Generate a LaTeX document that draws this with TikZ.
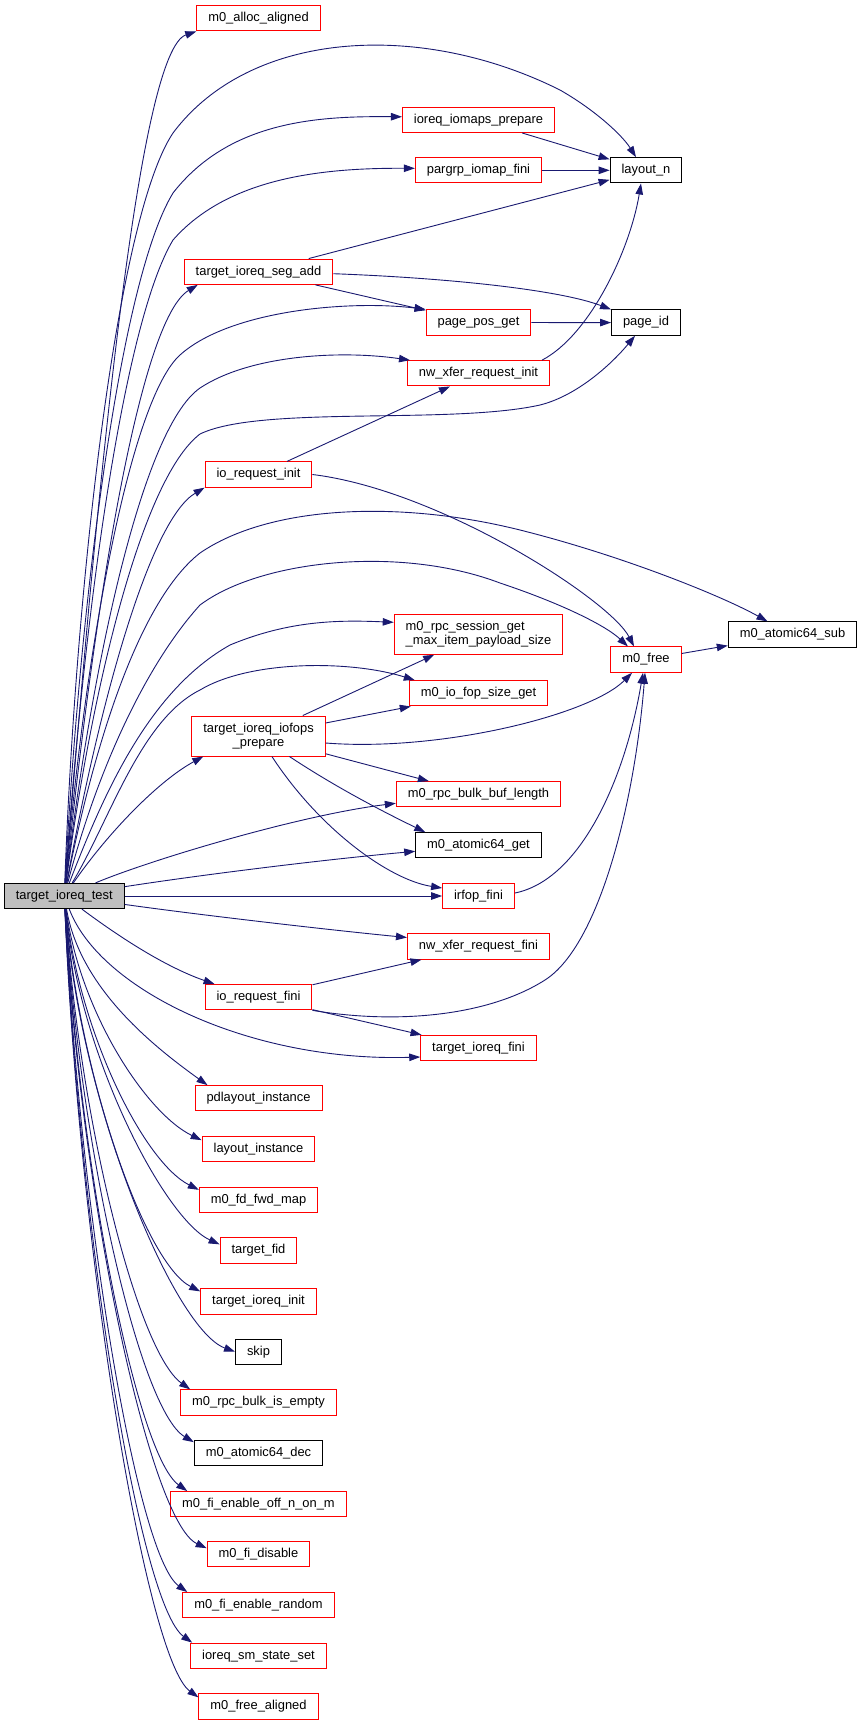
\documentclass[tikz,border=0pt]{standalone}
\usepackage{fontspec}
\setmainfont{Liberation Sans}
\usetikzlibrary{arrows.meta}
\definecolor{edgeblue}{HTML}{191970}
\definecolor{rootgrey}{HTML}{BFBFBF}
\tikzset{
	fnbox/.style={draw=red, line width=1pt, rectangle, inner xsep=11.5pt, minimum height=25.3pt, font=\fontsize{12.9}{14}\selectfont},
	fnboxblack/.style={fnbox, draw=black},
	rootbox/.style={fnbox, draw=black, fill=rootgrey},
	callarrow/.style={draw=edgeblue, line width=0.9pt, -{Triangle[length=11pt,width=7.5pt]}},
}

\begin{document}
\begin{tikzpicture}[x=1pt, y=-1pt]
		%%%%% START %%%%%
		\useasboundingbox (0, 0) rectangle (863, 1725);
		
		% caller
		\node[rootbox] (root) at (64.3, 896) {target\_ioreq\_test};
		
		% first column of callees
		\node[fnbox] (alloc) at (258.5, 18.3) {m0\_alloc\_aligned};
		\node[fnbox] (segadd) at (258.5, 271.7) {target\_ioreq\_seg\_add};
		\node[fnbox] (ioinit) at (258.5, 474.5) {io\_request\_init};
		\node[fnbox, minimum height=40pt, align=center] (iofops) at (258.5, 736) {target\_ioreq\_iofops\\\_prepare};
		\node[fnbox] (iofini) at (258.5, 997.2) {io\_request\_fini};
		\node[fnbox] (pdl) at (258.5, 1098.3) {pdlayout\_instance};
		\node[fnbox] (layinst) at (258.5, 1149.3) {layout\_instance};
		\node[fnbox] (fdfwd) at (258.5, 1200) {m0\_fd\_fwd\_map};
		\node[fnbox] (tgtfid) at (258.5, 1250.5) {target\_fid};
		\node[fnbox] (tgtinit) at (258.5, 1301.5) {target\_ioreq\_init};
		\node[fnboxblack] (skip) at (258.5, 1351.7) {skip};
		\node[fnbox] (bulkempty) at (258.5, 1402.5) {m0\_rpc\_bulk\_is\_empty};
		\node[fnboxblack] (atomdec) at (258.5, 1453.3) {m0\_atomic64\_dec};
		\node[fnbox] (fioff) at (258.5, 1504.2) {m0\_fi\_enable\_off\_n\_on\_m};
		\node[fnbox] (fidis) at (258.5, 1554.3) {m0\_fi\_disable};
		\node[fnbox] (firand) at (258.5, 1605.2) {m0\_fi\_enable\_random};
		\node[fnbox] (smstate) at (258.5, 1655.8) {ioreq\_sm\_state\_set};
		\node[fnbox] (freealig) at (258.5, 1706.5) {m0\_free\_aligned};
		
		% second column
		\node[fnbox] (iomaps) at (478.5, 119.8) {ioreq\_iomaps\_prepare};
		\node[fnbox] (pargrp) at (478.5, 170.3) {pargrp\_iomap\_fini};
		\node[fnbox] (pagepos) at (478.5, 322.5) {page\_pos\_get};
		\node[fnbox] (nwinit) at (478.5, 373.3) {nw\_xfer\_request\_init};
		\node[fnbox, minimum height=40pt, align=left] (rpcsess) at (478.5, 634.3) {m0\_rpc\_session\_get\\\_max\_item\_payload\_size};
		\node[fnbox] (iofop) at (478.5, 693.3) {m0\_io\_fop\_size\_get};
		\node[fnbox] (bulklen) at (478.5, 794.3) {m0\_rpc\_bulk\_buf\_length};
		\node[fnboxblack] (atomget) at (478.5, 845.3) {m0\_atomic64\_get};
		\node[fnbox] (irfop) at (478.5, 896) {irfop\_fini};
		\node[fnbox] (nwfini) at (478.5, 946.5) {nw\_xfer\_request\_fini};
		\node[fnbox] (tgtfini) at (478.5, 1048) {target\_ioreq\_fini};
		
		% third and fourth column
		\node[fnboxblack] (layoutn) at (646, 170.3) {layout\_n};
		\node[fnboxblack] (pageid) at (646, 322.6) {page\_id};
		\node[fnbox] (mfree) at (646, 659.6) {m0\_free};
		\node[fnboxblack] (atomsub) at (792.5, 634.5) {m0\_atomic64\_sub};
		
		% calls going up
		\draw[callarrow] (root) .. controls (100, 450) and (140, 50) .. (alloc.south west);
		\draw[callarrow] (root) .. controls (75, 600) and (115, 220) .. (173, 133) .. controls (250, 30) and (420, 20) .. (560, 90) .. controls (595, 110) and (622, 135) .. ([xshift=-10pt]layoutn.north);
		\draw[callarrow] (root) .. controls (80, 600) and (120, 280) .. (173, 193) .. controls (230, 120) and (320, 116) .. ([yshift=3pt]iomaps.west);
		\draw[callarrow] (root) .. controls (85, 600) and (125, 320) .. (173, 240) .. controls (230, 175) and (330, 168) .. ([yshift=2pt]pargrp.west);
		\draw[callarrow] (root) .. controls (95, 600) and (140, 320) .. ([xshift=14pt]segadd.south west);
		\draw[callarrow] (root) .. controls (85, 650) and (130, 400) .. (180, 355) .. controls (230, 310) and (350, 300) .. (pagepos.north west);
		\draw[callarrow] (root) .. controls (90, 680) and (140, 430) .. (200, 388) .. controls (250, 355) and (340, 350) .. ([xshift=3pt]nwinit.north west);
		\draw[callarrow] (root) .. controls (90, 700) and (140, 480) .. (200, 434) .. controls (260, 405) and (450, 425) .. (540, 405) .. controls (580, 395) and (615, 360) .. ([xshift=-11pt]pageid.south);
		\draw[callarrow] (root) .. controls (100, 700) and (150, 520) .. (ioinit.south west);
		\draw[callarrow] (root) .. controls (95, 740) and (140, 600) .. (200, 553) .. controls (270, 505) and (400, 500) .. (520, 530) .. controls (620, 555) and (720, 595) .. ([xshift=-25pt]atomsub.north);
		\draw[callarrow] (root) .. controls (100, 760) and (150, 660) .. (200, 605) .. controls (260, 560) and (400, 545) .. (500, 583) .. controls (560, 603) and (605, 625) .. ([xshift=-18pt]mfree.north);
		\draw[callarrow] (root) .. controls (105, 790) and (150, 690) .. (230, 645) .. controls (290, 620) and (340, 620) .. ([yshift=12pt]rpcsess.west);
		\draw[callarrow] (root) .. controls (110, 820) and (140, 720) .. (200, 690) .. controls (250, 660) and (350, 660) .. ([xshift=6pt]iofop.north west);
		\draw[callarrow] (root) .. controls (110, 830) and (160, 780) .. ([xshift=12pt]iofops.south west);
		\draw[callarrow] (root) .. controls (150, 860) and (300, 815) .. ([yshift=-9pt]bulklen.west);
		\draw[callarrow] (root) .. controls (200, 875) and (320, 860) .. ([yshift=-6pt]atomget.west);
		\draw[callarrow] (root) -- (irfop);
		\draw[callarrow] (root) .. controls (200, 915) and (330, 930) .. ([yshift=9pt]nwfini.west);
		\draw[callarrow] (root) .. controls (110, 930) and (160, 965) .. ([xshift=10pt]iofini.north west);
		\draw[callarrow] (root) .. controls (100, 990) and (250, 1062) .. ([yshift=-9pt]tgtfini.west);
		
		% calls going down
		\draw[callarrow] (root) .. controls (80, 988) and (153, 1046) .. ([xshift=13pt]pdl.north west);
		\draw[callarrow] (root) .. controls (80, 1013) and (147, 1114) .. ([yshift=-4pt]layinst.north west);
		\draw[callarrow] (root) .. controls (80, 1035) and (144, 1162) .. ([yshift=-3pt]fdfwd.north west);
		\draw[callarrow] (root) .. controls (80, 1060) and (166, 1220) .. ([yshift=-7pt]tgtfid.north west);
		\draw[callarrow] (root) .. controls (80, 1081) and (146, 1264) .. ([yshift=-3pt]tgtinit.north west);
		\draw[callarrow] (root) .. controls (80, 1108) and (175, 1330) .. (skip.west);
		\draw[callarrow] (root) .. controls (80, 1125) and (138, 1352) .. ([xshift=10pt]bulkempty.north west);
		\draw[callarrow] (root) .. controls (80, 1149) and (140, 1410) .. ([yshift=-2pt]atomdec.north west);
		\draw[callarrow] (root) .. controls (80, 1171) and (137, 1455) .. ([xshift=17pt]fioff.north west);
		\draw[callarrow] (root) .. controls (80, 1197) and (150, 1522) .. ([yshift=-7pt]fidis.north west);
		\draw[callarrow] (root) .. controls (80, 1216) and (137, 1556) .. ([xshift=5pt]firand.north west);
		\draw[callarrow] (root) .. controls (80, 1239) and (140, 1605) .. ([xshift=2pt]smstate.north west);
		\draw[callarrow] (root) .. controls (80, 1264) and (147, 1660) .. ([yshift=-4pt]freealig.north west);
		
		% second level calls
		\draw[callarrow] (iomaps) -- (layoutn);
		\draw[callarrow] (pargrp) -- (layoutn);
		\draw[callarrow] (segadd) -- (layoutn);
		\draw[callarrow] (segadd) -- (pagepos);
		\draw[callarrow] ([yshift=-2pt]segadd.east) .. controls (450, 278) and (560, 290) .. (pageid.north west);
		\draw[callarrow] (pagepos) -- (pageid);
		\draw[callarrow] ([xshift=-8pt]nwinit.north east) .. controls (590, 335) and (630, 250) .. ([xshift=-5pt]layoutn.south);
		\draw[callarrow] (ioinit) -- (nwinit);
		\draw[callarrow] (ioinit.east) .. controls (440, 490) and (610, 600) .. ([xshift=-12pt]mfree.north);
		\draw[callarrow] (mfree) -- (atomsub);
		\draw[callarrow] (iofops) -- (rpcsess);
		\draw[callarrow] (iofops) -- (iofop);
		\draw[callarrow] ([yshift=-7pt]iofops.east) .. controls (440, 752) and (590, 715) .. ([xshift=-14pt]mfree.south);
		\draw[callarrow] (iofops) -- (bulklen);
		\draw[callarrow] (iofops) .. controls (340, 790) and (390, 815) .. ([xshift=10pt]atomget.north west);
		\draw[callarrow] (iofops) .. controls (320, 830) and (390, 880) .. ([yshift=8pt]irfop.west);
		\draw[callarrow] ([yshift=3pt]irfop.east) .. controls (580, 880) and (625, 780) .. ([xshift=-3pt]mfree.south);
		\draw[callarrow] (iofini) -- (nwfini);
		\draw[callarrow] (iofini.south east) .. controls (400, 1025) and (490, 1015) .. (545, 980) .. controls (600, 945) and (635, 800) .. ([xshift=-1pt]mfree.south);
		\draw[callarrow] (iofini) -- (tgtfini);
		%%%%% END %%%%%
\end{tikzpicture}
\end{document}
